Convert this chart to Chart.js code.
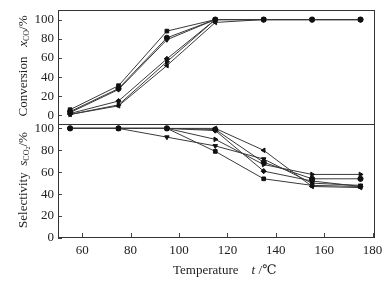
<!DOCTYPE html>
<html>
<head>
<meta charset="utf-8">
<script src="https://cdn.jsdelivr.net/npm/chart.js@4/dist/chart.umd.min.js"></script>
<style>
  html, body { margin: 0; padding: 0; background: #fff; }
  #wrap { position: relative; width: 390px; height: 283px; overflow: hidden; font-family: "Liberation Serif", "DejaVu Serif", serif; color: #222; }
  canvas { position: absolute; left: 0; }
  #cTop { top: 0; }
  #cBot { top: 119px; }
  .box { position: absolute; left: 58px; width: 317px; border: 1px solid #333; box-sizing: border-box; z-index: 2; }
  .ytitle { position: absolute; font-size: 13px; white-space: nowrap; transform-origin: center center; transform: translate(-50%, -50%) rotate(-90deg); }
  .ytitle i { font-style: italic; }
  .ytitle sub { font-size: 8px; vertical-align: -2px; }
  .ytitle sub sub { font-size: 6px; vertical-align: -1px; }
  #xtitle { position: absolute; left: 173px; top: 262px; font-size: 13px; white-space: nowrap; }
  #xtitle i { font-style: italic; }
</style>
</head>
<body>
<div id="wrap">
  <canvas id="cTop" width="390" height="130"></canvas>
  <canvas id="cBot" width="390" height="164"></canvas>
  <div class="box" style="top:10px; height:115px;"></div>
  <div class="box" style="top:124px; height:114px;"></div>
  <div class="ytitle" style="left:23px; top:66px;">Conversion&nbsp;&nbsp;&nbsp;<i>x</i><sub>CO</sub>/%</div>
  <div class="ytitle" style="left:23px; top:180px;">Selectivity&nbsp;&nbsp;<i>s</i><sub>CO<sub>2</sub></sub>/%</div>
  <div id="xtitle">Temperature&nbsp;&nbsp;&nbsp;&nbsp;<i>t</i> /℃</div>
</div>
<script>
// temperatures (°C)
const temps = [55, 75, 95, 115, 135, 155, 175];
const xTicks = [60, 80, 100, 120, 140, 160, 180];
const yTicks = [0, 20, 40, 60, 80, 100];

// CO conversion, %
const convSquare = [6, 31, 88, 100, 100, 100, 100];
const convCircle = [4, 28, 81, 100, 100, 100, 100];
const convTriDown = [3, 27, 79, 100, 100, 100, 100];
const convDiamond = [2, 15, 59, 100, 100, 100, 100];
const convTriRight = [1, 11, 56, 100, 100, 100, 100];
const convTriLeft = [1, 10, 52, 97, 100, 100, 100];

// CO2 selectivity, %
const selSquare = [100, 100, 100, 79, 54, 48, 47];
const selCircle = [100, 100, 100, 99, 69, 54, 54];
const selTriDown = [100, 100, 92, 84, 72, 50, 48];
const selDiamond = [100, 100, 100, 98, 61, 52, 47];
const selTriRight = [100, 100, 100, 90, 67, 58, 58];
const selTriLeft = [100, 100, 100, 100, 80, 47, 46];

const markers = [
  { style: 'rect', rot: 0 },
  { style: 'circle', rot: 0 },
  { style: 'triangle', rot: 180 },
  { style: 'rectRot', rot: 0 },
  { style: 'triangle', rot: 90 },
  { style: 'triangle', rot: -90 },
];

function makeSets(series) {
  return series.map((vals, i) => ({
    data: vals.map((v, k) => ({ x: temps[k], y: v })),
    borderColor: '#3a3a3a',
    borderWidth: 1,
    backgroundColor: '#111',
    pointBackgroundColor: '#111',
    pointBorderColor: '#111',
    pointStyle: markers[i].style,
    pointRotation: markers[i].rot,
    pointRadius: 2.6,
    tension: 0,
  }));
}

// inward tick marks (frame itself is the .box divs)
const tickPlugin = {
  id: 'inTicks',
  beforeDatasetsDraw(chart, args, opts) {
    try {
      const { ctx, chartArea: a } = chart;
      ctx.save();
      ctx.strokeStyle = '#444';
      ctx.beginPath();
      yTicks.forEach((v) => {
        const y = Math.round(chart.scales.y.getPixelForValue(v)) + 0.5;
        ctx.moveTo(a.left, y);
        ctx.lineTo(a.left + 4, y);
      });
      if (opts.xTicks) {
        xTicks.forEach((v) => {
          const x = Math.round(chart.scales.x.getPixelForValue(v)) + 0.5;
          ctx.moveTo(x, a.bottom - 1);
          ctx.lineTo(x, a.bottom - 5);
        });
      }
      ctx.stroke();
      ctx.restore();
    } catch (e) { /* ticks are cosmetic */ }
  },
};

const tickFont = { family: '"Liberation Serif", serif', size: 13 };

function baseOptions(yMin, yMax, showX, pad) {
  return {
    responsive: false,
    animation: false,
    layout: { padding: pad },
    plugins: { legend: { display: false }, tooltip: { enabled: false }, inTicks: { xTicks: showX } },
    scales: {
      x: {
        type: 'linear',
        min: 50,
        max: 181,
        display: showX,
        grid: { display: false, drawTicks: false },
        border: { display: false },
        ticks: { color: '#222', font: tickFont, padding: 5, maxRotation: 0 },
        afterBuildTicks: (s) => { s.ticks = xTicks.map((v) => ({ value: v })); },
        afterFit: (s) => { s.height = showX ? 45 : 0; s.paddingLeft = 0; s.paddingRight = 0; },
      },
      y: {
        min: yMin,
        max: yMax,
        grid: { display: false, drawTicks: false },
        border: { display: false },
        ticks: { color: '#222', font: tickFont, padding: 4 },
        afterBuildTicks: (s) => { s.ticks = yTicks.map((v) => ({ value: v })); },
        afterFit: (s) => { s.width = 58; s.paddingTop = 0; s.paddingBottom = 0; },
      },
    },
  };
}

new Chart(document.getElementById('cTop'), {
  type: 'line',
  data: { datasets: makeSets([convSquare, convCircle, convTriDown, convDiamond, convTriRight, convTriLeft]) },
  options: baseOptions(-10, 110, false, { left: 0, right: 15, top: 10, bottom: 0 }),
  plugins: [tickPlugin],
});

new Chart(document.getElementById('cBot'), {
  type: 'line',
  data: { datasets: makeSets([selSquare, selCircle, selTriDown, selDiamond, selTriRight, selTriLeft]) },
  options: baseOptions(0, 104, true, { left: 0, right: 15, top: 0, bottom: 0 }),
  plugins: [tickPlugin],
});
</script>
</body>
</html>
